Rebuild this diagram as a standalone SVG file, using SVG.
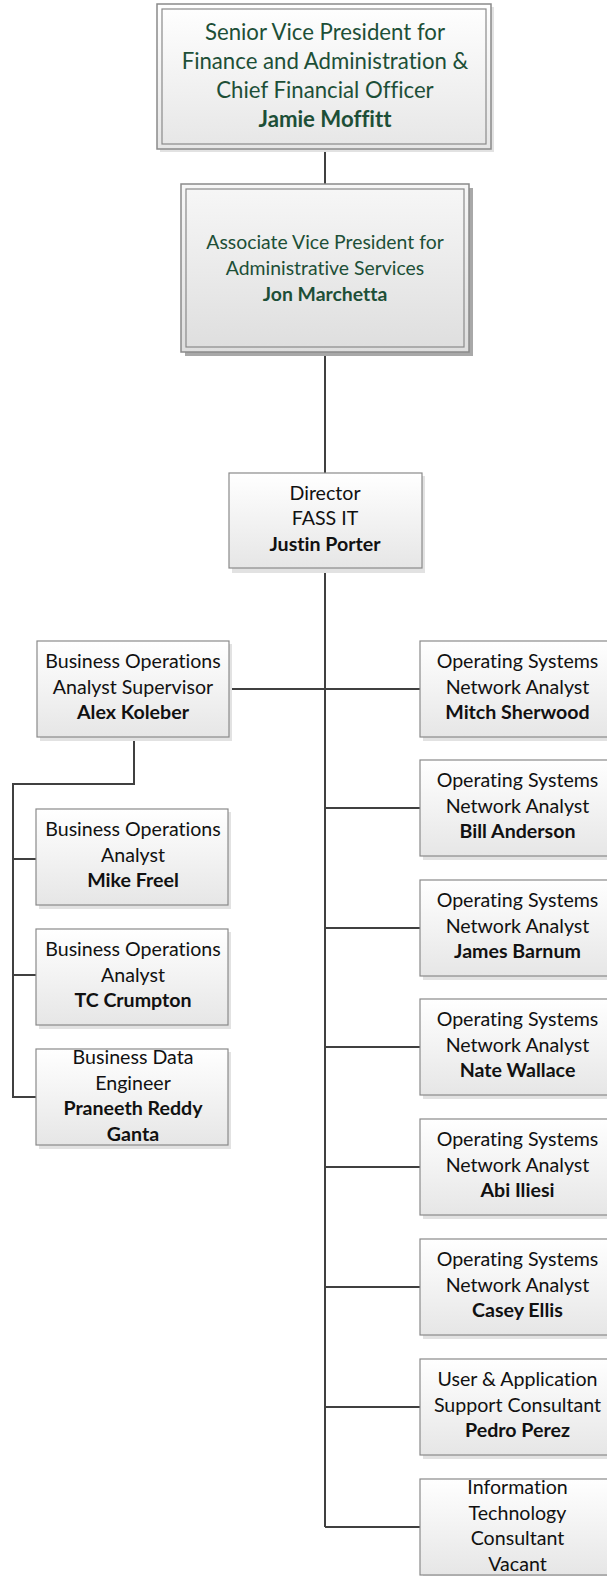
<svg xmlns="http://www.w3.org/2000/svg" width="607" height="1576" viewBox="0 0 607 1576">
<defs>
<linearGradient id="g" x1="0" y1="0" x2="0" y2="1">
<stop offset="0" stop-color="#ffffff"/>
<stop offset="1" stop-color="#e6e6e6"/>
</linearGradient>
<linearGradient id="g2" x1="0" y1="0" x2="0" y2="1">
<stop offset="0" stop-color="#f7f7f7"/>
<stop offset="1" stop-color="#dedede"/>
</linearGradient>
</defs>
<style>
text{font-family:Lato,"Liberation Sans",sans-serif;text-anchor:middle;fill:#111;font-variant-ligatures:none}
.t{font-size:19.6px}
.b{font-weight:bold}
.gr{fill:#1d4f37}
.box{fill:url(#g);stroke:#8a8a8a;stroke-width:1.2}
.sh{fill:#e2e2e2}
.dark{fill:#a8a8a8}
.ln{fill:none;stroke:#404040;stroke-width:2}
</style>
<g id="connectors">
<path class="ln" d="M325 149V184M325 352V473M325 568V1527"/>
<path class="ln" d="M229 689H420"/>
<path class="ln" d="M325 808H420M325 928H420M325 1047H420M325 1167H420M325 1287H420M325 1407H420M325 1527H420"/>
<path class="ln" d="M134 737V784H13V1097H36M13 859H36M13 975H36"/>
</g>
<g id="n1">
<rect x="160" y="7" width="334" height="145" class="sh"/>
<rect x="157" y="4" width="334" height="145" fill="url(#g)" stroke="#8a8a8a" stroke-width="1.5"/>
<rect x="162" y="9" width="324" height="135" fill="none" stroke="#8a8a8a" stroke-width="1.2"/>
<text class="gr" font-size="22.2" x="325" y="40">Senior Vice President for</text>
<text class="gr" font-size="22.2" x="325" y="69">Finance and Administration &amp;</text>
<text class="gr" font-size="22.2" x="325" y="98">Chief Financial Officer</text>
<text class="gr b" font-size="22.2" x="325" y="127">Jamie Moffitt</text>
</g>
<g id="n2">
<rect x="185" y="188" width="288" height="168" class="dark"/>
<rect x="181" y="184" width="288" height="168" fill="url(#g2)" stroke="#8a8a8a" stroke-width="1.5"/>
<rect x="186" y="189" width="278" height="158" fill="none" stroke="#8a8a8a" stroke-width="1.2"/>
<text class="gr" font-size="19.4" x="325" y="249">Associate Vice President for</text>
<text class="gr" font-size="19.4" x="325" y="275">Administrative Services</text>
<text class="gr b" font-size="19.4" x="325" y="301">Jon Marchetta</text>
</g>
<g id="n3">
<rect x="232" y="476" width="193" height="97" class="sh"/>
<rect x="229" y="473" width="193" height="95" class="box"/>
<text class="t" x="325" y="500">Director</text>
<text class="t" x="325" y="525">FASS IT</text>
<text class="t b" x="325" y="551">Justin Porter</text>
</g>
<g id="n4">
<rect x="40" y="644" width="192" height="97" class="sh"/>
<rect x="37" y="641" width="192" height="96" class="box"/>
<text class="t" x="133" y="668">Business Operations</text>
<text class="t" x="133" y="694">Analyst Supervisor</text>
<text class="t b" x="133" y="719">Alex Koleber</text>
</g>
<g id="n5">
<rect x="39" y="812" width="192" height="97" class="sh"/>
<rect x="36" y="809" width="192" height="96" class="box"/>
<text class="t" x="133" y="836">Business Operations</text>
<text class="t" x="133" y="862">Analyst</text>
<text class="t b" x="133" y="887">Mike Freel</text>
</g>
<g id="n6">
<rect x="39" y="932" width="192" height="97" class="sh"/>
<rect x="36" y="929" width="192" height="96" class="box"/>
<text class="t" x="133" y="956">Business Operations</text>
<text class="t" x="133" y="982">Analyst</text>
<text class="t b" x="133" y="1007">TC Crumpton</text>
</g>
<g id="n7">
<rect x="39" y="1052" width="192" height="97" class="sh"/>
<rect x="36" y="1049" width="192" height="96" class="box"/>
<text class="t" x="133" y="1064">Business Data</text>
<text class="t" x="133" y="1090">Engineer</text>
<text class="t b" x="133" y="1115">Praneeth Reddy</text>
<text class="t b" x="133" y="1141">Ganta</text>
</g>
<g id="n8">
<rect x="423" y="644" width="192" height="97" class="sh"/>
<rect x="420" y="641" width="192" height="96" class="box"/>
<text class="t" x="517.5" y="668">Operating Systems</text>
<text class="t" x="517.5" y="694">Network Analyst</text>
<text class="t b" x="517.5" y="719">Mitch Sherwood</text>
</g>
<g id="n9">
<rect x="423" y="763" width="192" height="97" class="sh"/>
<rect x="420" y="760" width="192" height="96" class="box"/>
<text class="t" x="517.5" y="787">Operating Systems</text>
<text class="t" x="517.5" y="813">Network Analyst</text>
<text class="t b" x="517.5" y="838">Bill Anderson</text>
</g>
<g id="n10">
<rect x="423" y="883" width="192" height="97" class="sh"/>
<rect x="420" y="880" width="192" height="96" class="box"/>
<text class="t" x="517.5" y="907">Operating Systems</text>
<text class="t" x="517.5" y="933">Network Analyst</text>
<text class="t b" x="517.5" y="958">James Barnum</text>
</g>
<g id="n11">
<rect x="423" y="1002" width="192" height="97" class="sh"/>
<rect x="420" y="999" width="192" height="96" class="box"/>
<text class="t" x="517.5" y="1026">Operating Systems</text>
<text class="t" x="517.5" y="1052">Network Analyst</text>
<text class="t b" x="517.5" y="1077">Nate Wallace</text>
</g>
<g id="n12">
<rect x="423" y="1122" width="192" height="97" class="sh"/>
<rect x="420" y="1119" width="192" height="96" class="box"/>
<text class="t" x="517.5" y="1146">Operating Systems</text>
<text class="t" x="517.5" y="1172">Network Analyst</text>
<text class="t b" x="517.5" y="1197">Abi Iliesi</text>
</g>
<g id="n13">
<rect x="423" y="1242" width="192" height="97" class="sh"/>
<rect x="420" y="1239" width="192" height="96" class="box"/>
<text class="t" x="517.5" y="1266">Operating Systems</text>
<text class="t" x="517.5" y="1292">Network Analyst</text>
<text class="t b" x="517.5" y="1317">Casey Ellis</text>
</g>
<g id="n14">
<rect x="423" y="1362" width="192" height="97" class="sh"/>
<rect x="420" y="1359" width="192" height="96" class="box"/>
<text class="t" x="517.5" y="1386">User &amp; Application</text>
<text class="t" x="517.5" y="1412">Support Consultant</text>
<text class="t b" x="517.5" y="1437">Pedro Perez</text>
</g>
<g id="n15">
<rect x="423" y="1482" width="192" height="97" class="sh"/>
<rect x="420" y="1479" width="192" height="96" class="box"/>
<text class="t" x="517.5" y="1494">Information</text>
<text class="t" x="517.5" y="1520">Technology</text>
<text class="t" x="517.5" y="1545">Consultant</text>
<text class="t" x="517.5" y="1571">Vacant</text>
</g>
</svg>
